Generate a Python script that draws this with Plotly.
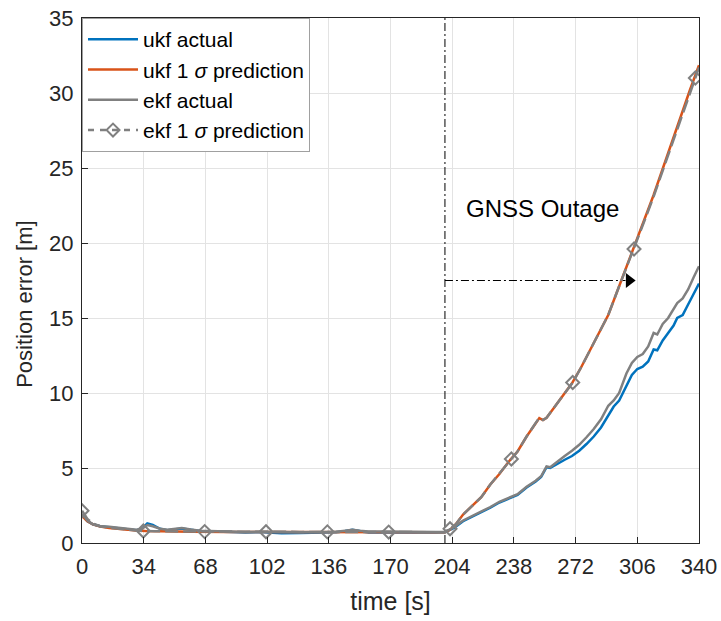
import plotly.graph_objects as go

# ---------------- data ----------------
t_actual = [0, 3, 6, 10, 15, 20, 25, 30, 33, 36, 39, 43, 47, 51, 55, 60, 65, 70, 80, 90,
            100, 110, 120, 130, 140, 145, 149, 153, 158, 165, 175, 185, 195, 200,
            205, 210, 215, 220, 225, 230, 235, 240, 245, 250, 253, 256, 258, 262, 266,
            270, 274, 278, 282, 286, 290, 293, 296, 300, 303, 306, 309, 312, 315, 317,
            320, 323, 326, 328, 331, 334, 337, 340]

ukf_actual = [1.85, 1.45, 1.25, 1.12, 1.05, 0.98, 0.93, 0.85, 0.95, 1.30, 1.20, 0.95, 0.85,
              0.92, 0.97, 0.88, 0.80, 0.78, 0.72, 0.70, 0.72, 0.65, 0.66, 0.70, 0.72, 0.80,
              0.88, 0.80, 0.70, 0.72, 0.70, 0.68, 0.70, 0.72,
              1.00, 1.45, 1.75, 2.00, 2.35, 2.70, 2.95, 3.20, 3.70, 4.10, 4.40, 5.05, 5.00,
              5.30, 5.55, 5.80, 6.15, 6.60, 7.10, 7.70, 8.50, 9.10, 9.50, 10.50, 11.20,
              11.60, 11.75, 12.10, 12.90, 12.85, 13.50, 14.00, 14.50, 15.00, 15.20, 15.90,
              16.60, 17.30]

ekf_actual = [1.95, 1.50, 1.25, 1.12, 1.08, 1.00, 0.95, 0.88, 0.95, 1.20, 1.12, 0.95, 0.88,
              0.95, 1.00, 0.90, 0.82, 0.80, 0.76, 0.74, 0.75, 0.72, 0.72, 0.74, 0.75, 0.82,
              0.88, 0.82, 0.76, 0.76, 0.74, 0.72, 0.73, 0.74,
              1.05, 1.50, 1.80, 2.05, 2.40, 2.75, 3.00, 3.25, 3.75, 4.15, 4.45, 5.10, 5.05,
              5.45, 5.80, 6.15, 6.55, 7.05, 7.60, 8.25, 9.15, 9.50, 10.00, 11.30, 12.00,
              12.40, 12.60, 13.10, 14.00, 13.90, 14.60, 15.00, 15.60, 16.00, 16.30, 16.90,
              17.70, 18.45]

t_ukf_pred = [0, 3, 6, 10, 15, 20, 25, 30, 35, 40, 50, 60, 80, 100, 120, 140, 160, 180, 200,
              203, 206, 210, 215, 220, 225, 230, 235, 240, 245, 250, 252, 254, 256, 260, 265,
              270, 275, 280, 285, 290, 295, 300, 305, 310, 315, 320, 325, 330, 335, 340]
ukf_pred = [1.80, 1.45, 1.25, 1.10, 1.00, 0.93, 0.88, 0.84, 0.80, 0.78, 0.76, 0.75, 0.74,
            0.74, 0.73, 0.73, 0.73, 0.72, 0.72,
            0.90, 1.25, 1.90, 2.45, 3.05, 3.90, 4.60, 5.40, 6.10, 7.10, 8.00, 8.33, 8.20,
            8.35, 9.00, 9.85, 10.65, 11.70, 12.85, 14.00, 15.20, 16.80, 18.40, 20.05, 21.60,
            23.20, 24.95, 26.75, 28.50, 30.20, 31.85]

t_ekf_pred = [0, 3, 6, 10, 15, 20, 25, 30, 33.8, 40, 50, 60, 67.6, 80, 101.4, 120, 135.2, 150,
              169, 185, 200, 202.8, 206, 210, 215, 220, 225, 230, 236.6, 240, 245, 250, 252,
              254, 256, 260, 265, 270.4, 275, 280, 285, 290, 295, 300, 304.2, 310, 315, 320,
              325, 330, 338, 340]
ekf_pred = [2.15, 1.60, 1.30, 1.12, 1.02, 0.95, 0.90, 0.85, 0.80, 0.78, 0.77, 0.76, 0.76,
            0.75, 0.75, 0.74, 0.74, 0.73, 0.73, 0.72, 0.72, 0.95, 1.25, 1.90, 2.45, 3.05,
            3.90, 4.60, 5.60, 6.10, 7.10, 8.00, 8.35, 8.20, 8.35, 9.00, 9.85, 10.70, 11.70,
            12.85, 14.00, 15.20, 16.80, 18.35, 19.60, 21.50, 23.10, 24.85, 26.60, 28.35,
            31.00, 31.70]
ekf_marker_times = [0, 33.8, 67.6, 101.4, 135.2, 169, 202.8, 236.6, 270.4, 304.2, 338]

x_ticks = [0, 34, 68, 102, 136, 170, 204, 238, 272, 306, 340]
y_ticks = [0, 5, 10, 15, 20, 25, 30, 35]

outage_start = 200
arrow_level = 17.5
arrow_end = 301.5
label_pos = (254, 22.3)
label_text = "GNSS Outage"

# ---------------- styling ----------------
BLUE = "#0072BD"
ORANGE = "#D95319"
GRAY = "#808080"
FONT = "Liberation Sans, Arial, Helvetica, sans-serif"
TXT = "#262626"
LW = 2.5

mk_t = [t for t in t_ekf_pred if t in ekf_marker_times]
mk_v = [v for t, v in zip(t_ekf_pred, ekf_pred) if t in ekf_marker_times]

fig = go.Figure()

# outage vertical line and arrow shaft
fig.add_trace(go.Scatter(x=[outage_start, outage_start], y=[y_ticks[0], y_ticks[-1]],
                         mode="lines", line=dict(color="black", width=1, dash="8px,3px,2px,3px"),
                         showlegend=False, hoverinfo="skip"))
fig.add_trace(go.Scatter(x=[outage_start, arrow_end - 2], y=[arrow_level, arrow_level],
                         mode="lines", line=dict(color="black", width=1, dash="8px,3px,2px,3px"),
                         showlegend=False, hoverinfo="skip"))

fig.add_trace(go.Scatter(x=t_actual, y=ukf_actual, name="ukf actual", mode="lines",
                         line=dict(color=BLUE, width=LW)))
fig.add_trace(go.Scatter(x=t_ukf_pred, y=ukf_pred, name="ukf 1 <i>σ</i> prediction",
                         mode="lines", line=dict(color=ORANGE, width=LW)))
fig.add_trace(go.Scatter(x=t_actual, y=ekf_actual, name="ekf actual", mode="lines",
                         line=dict(color=GRAY, width=LW)))
fig.add_trace(go.Scatter(x=t_ekf_pred, y=ekf_pred, mode="lines", showlegend=False,
                         line=dict(color=GRAY, width=LW, dash="13px,5px")))
fig.add_trace(go.Scatter(x=mk_t, y=mk_v, mode="markers", showlegend=False,
                         marker=dict(symbol="diamond-open", size=10, color=GRAY,
                                     line=dict(color=GRAY, width=2))))
fig.add_trace(go.Scatter(x=[None], y=[None], name="ekf 1 <i>σ</i> prediction",
                         mode="lines+markers",
                         line=dict(color=GRAY, width=LW, dash="6px,6px"),
                         marker=dict(symbol="diamond-open", size=10, color=GRAY,
                                     line=dict(color=GRAY, width=2))))

# arrowhead
fig.add_trace(go.Scatter(x=[arrow_end], y=[arrow_level], mode="markers", showlegend=False,
                         marker=dict(symbol="triangle-right", size=13, color="black"),
                         hoverinfo="skip"))

fig.add_annotation(x=label_pos[0], y=label_pos[1], text=label_text, showarrow=False,
                   font=dict(family=FONT, size=24, color="black"))

# y-axis title (placed as in the reference, slightly below the axis middle)
fig.add_annotation(xref="paper", yref="paper", x=-0.0945, y=0.455, text="Position error [m]",
                   textangle=-90, showarrow=False, xanchor="center", yanchor="middle",
                   font=dict(family=FONT, size=22, color=TXT))

axis_common = dict(showgrid=True, gridcolor="#e3e3e3", gridwidth=1, zeroline=False,
                   showline=True, linecolor=TXT, linewidth=1, mirror=True,
                   ticks="inside", ticklen=6, tickcolor=TXT, automargin=False,
                   tickfont=dict(family=FONT, size=22, color=TXT))

fig.update_xaxes(range=[0, 340], tickvals=x_ticks, ticktext=[str(v) for v in x_ticks],
                 ticklabelstandoff=4,
                 title=dict(text="time [s]", font=dict(family=FONT, size=25, color=TXT),
                            standoff=14),
                 **axis_common)
fig.update_yaxes(range=[0, 35], tickvals=y_ticks, ticktext=[str(v) for v in y_ticks],
                 ticklabelstandoff=3,
                 **axis_common)

fig.update_layout(
    width=721, height=621,
    margin=dict(l=82, r=22, t=18, b=78, autoexpand=False),
    paper_bgcolor="white", plot_bgcolor="white",
    font=dict(family=FONT, color=TXT),
    legend=dict(x=0, y=1, xanchor="left", yanchor="top",
                bgcolor="white", bordercolor="#a0a0a0", borderwidth=1,
                font=dict(family=FONT, size=21, color="black"),
                tracegroupgap=0, itemwidth=50),
)

fig.write_html("out.html")
